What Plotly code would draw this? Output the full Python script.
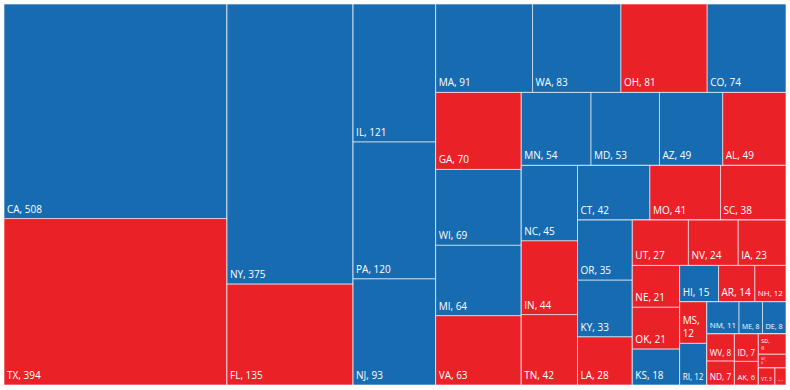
import plotly.graph_objects as go

states = ["CA","TX","NY","FL","IL","PA","NJ","MA","WA","OH","CO","GA","WI","MI","VA",
          "MN","MD","AZ","AL","NC","IN","TN","CT","MO","SC","OR","KY","LA","UT","NV",
          "IA","NE","OK","KS","HI","AR","NH","MS","RI","NM","ME","DE","WV","ND","ID",
          "AK","SD","MT","VT","WY"]
values = [508,394,375,135,121,120,93,91,83,81,74,70,69,64,63,
          54,53,49,49,45,44,42,42,41,38,35,33,28,27,24,
          23,21,21,18,15,14,12,12,12,11,8,8,8,7,7,
          6,6,4,3,2]
party = ["D","R","D","R","D","D","D","D","D","R","D","R","D","D","R",
         "D","D","D","R","D","R","R","D","R","R","D","D","R","R","R",
         "R","R","R","D","D","R","R","R","D","D","D","D","R","R","R",
         "R","R","R","R","R"]
# strip (row/column) each state falls in, in layout order
strip = [0,0,1,1,2,2,2,3,3,3,3,4,4,4,4,
         5,5,5,5,6,6,6,7,7,7,8,8,8,9,9,
         9,10,10,10,11,11,11,12,12,13,13,13,14,14,15,
         15,16,17,18,18]
wrapped = {"MS", "SD", "MT"}

color_map = {"D": "#176cb1", "R": "#eb2128"}

n_strips = max(strip) + 1
ids, labels, parents, vals, colors, templates = [], [], [], [], [], []

# nested grouping: rest_k contains strip_k and rest_{k+1}
for k in range(n_strips):
    ids.append(f"rest{k}")
    labels.append("")
    parents.append("" if k == 0 else f"rest{k-1}")
    vals.append(0)
    colors.append(color_map["D"])
    templates.append("")
    ids.append(f"strip{k}")
    labels.append("")
    parents.append(f"rest{k}")
    vals.append(0)
    colors.append(color_map["D"])
    templates.append("")

for s, v, p, g in zip(states, values, party, strip):
    ids.append(s)
    labels.append(s)
    parents.append(f"strip{g}")
    vals.append(v)
    colors.append(color_map[p])
    templates.append("%{label},<br>%{value}" if s in wrapped else "%{label}, %{value}")

fig = go.Figure(go.Treemap(
    ids=ids,
    labels=labels,
    parents=parents,
    values=vals,
    branchvalues="remainder",
    texttemplate=templates,
    textposition="bottom left",
    textfont=dict(family="Open Sans", size=10, color="white"),
    marker=dict(colors=colors, line=dict(width=1, color="rgba(255,255,255,0.6)"),
                pad=dict(t=0, l=0, r=0, b=0)),
    tiling=dict(packing="squarify", pad=0),
    pathbar=dict(visible=False),
    sort=False,
    hoverinfo="label+value",
))
fig.update_layout(
    width=790, height=390,
    margin=dict(l=4, r=4, t=4, b=5),
    paper_bgcolor="white",
)
fig.write_html("out.html", config={"displayModeBar": False},
               post_script="document.body.style.margin='0px';")
